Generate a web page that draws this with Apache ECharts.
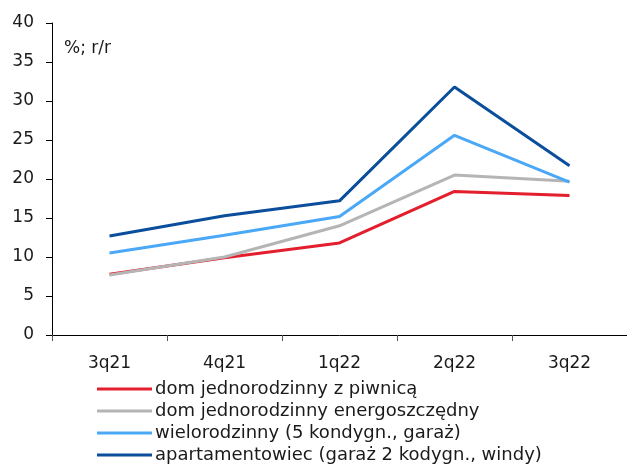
<!DOCTYPE html>
<html>
<head>
<meta charset="utf-8">
<script src="https://cdn.jsdelivr.net/npm/echarts@6/dist/echarts.min.js"></script>
<style>html,body{margin:0;padding:0;background:#fff;}#c{width:627px;height:464px;}</style>
</head>
<body>
<div id="c"></div>
<script>
const categories = ['3q21', '4q21', '1q22', '2q22', '3q22'];
const seriesNames = [
  'dom jednorodzinny z piwnicą',
  'dom jednorodzinny energoszczędny',
  'wielorodzinny (5 kondygn., garaż)',
  'apartamentowiec (garaż 2 kodygn., windy)'
];
const domPiwnica = [7.8, 9.9, 11.8, 18.4, 17.9];
const domEnergo = [7.7, 10.0, 14.0, 20.5, 19.7];
const wielorodzinny = [10.5, 12.8, 15.2, 25.6, 19.6];
const apartamentowiec = [12.7, 15.3, 17.2, 31.8, 21.7];
const yTicks = { min: 0, max: 40, interval: 5 };
const unitLabel = '%; r/r';

const colors = ['#e31e2d', '#b5b5b5', '#4aa8f7', '#0b4e9c'];
const values = [domPiwnica, domEnergo, wielorodzinny, apartamentowiec];
const FONT = 'DejaVu Sans';

const chart = echarts.init(document.getElementById('c'), null, { renderer: 'canvas' });
chart.setOption({
  animation: false,
  backgroundColor: '#ffffff',
  color: colors,
  textStyle: { fontFamily: FONT },
  grid: { left: 52, right: 0, top: 23, bottom: 129, containLabel: false },
  title: {
    text: unitLabel,
    left: 59, top: 35,
    textStyle: { fontFamily: FONT, fontSize: 17, fontWeight: 'normal', color: '#1a1a1a' }
  },
  legend: {
    orient: 'vertical',
    left: 97, top: 380,
    itemWidth: 55, itemHeight: 3, itemGap: 4,
    icon: 'rect',
    padding: 0,
    textStyle: { fontFamily: FONT, fontSize: 18, color: '#1a1a1a', lineHeight: 18, padding: [0, 0, 0, -2] },
    data: seriesNames
  },
  xAxis: {
    type: 'category',
    data: categories,
    boundaryGap: true,
    axisLine: { lineStyle: { color: '#000', width: 1 } },
    axisTick: { show: true, length: 6, lineStyle: { color: '#555' } },
    axisLabel: { fontFamily: FONT, fontSize: 17, color: '#1a1a1a', margin: 20 },
    splitLine: { show: false }
  },
  yAxis: {
    type: 'value',
    min: yTicks.min, max: yTicks.max, interval: yTicks.interval,
    axisLine: { show: true, lineStyle: { color: '#000', width: 1 } },
    axisTick: { show: true, length: 6, lineStyle: { color: '#000' } },
    axisLabel: { fontFamily: FONT, fontSize: 17, color: '#1a1a1a', margin: 18 },
    splitLine: { show: false }
  },
  series: seriesNames.map((n, i) => ({
    name: n,
    type: 'line',
    data: values[i],
    symbol: 'none',
    lineStyle: { width: 3, color: colors[i] },
    itemStyle: { color: colors[i] }
  }))
});
</script>
</body>
</html>
